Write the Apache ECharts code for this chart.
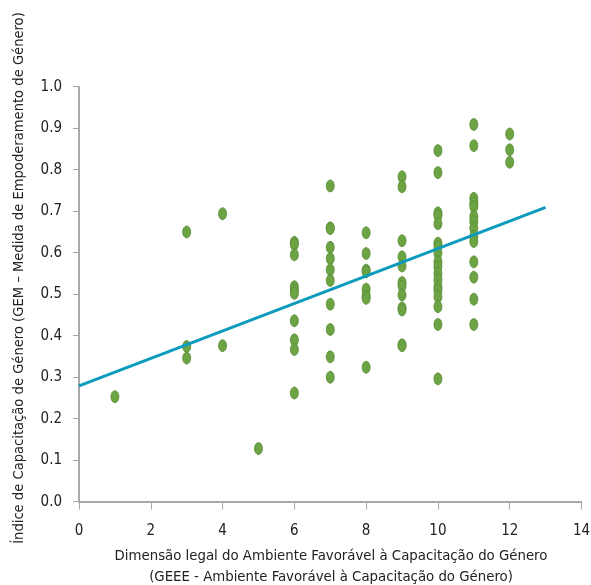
<!DOCTYPE html>
<html><head><meta charset="utf-8">
<script src="https://cdn.jsdelivr.net/npm/echarts@6/dist/echarts.min.js"></script>
<style>html,body{margin:0;padding:0;background:#fff}#c{width:591px;height:585px}</style>
</head><body><div id="c"></div>
<script>
const geeeX = [1,
 3,3,3,
 4,4,
 5,
 6,6,6,6,6,6,6,6,6,6,
 7,7,7,7,7,7,7,7,7,7,7,
 8,8,8,8,8,8,8,8,
 9,9,9,9,9,9,9,9,9,9,9,9,
 10,10,10,10,10,10,10,10,10,10,10,10,10,10,10,10,10,10,
 11,11,11,11,11,11,11,11,11,11,11,11,11,11,
 12,12,12];
const gemY = [0.253,
 0.650,0.374,0.346,
 0.694,0.376,
 0.128,
 0.625,0.620,0.595,0.518,0.510,0.502,0.436,0.390,0.367,0.262,
 0.761,0.660,0.658,0.613,0.586,0.559,0.533,0.476,0.415,0.349,0.300,
 0.648,0.598,0.558,0.554,0.512,0.496,0.490,0.324,
 0.783,0.759,0.629,0.590,0.568,0.528,0.520,0.498,0.467,0.462,0.378,0.376,
 0.846,0.793,0.696,0.690,0.670,0.623,0.615,0.599,0.578,0.566,0.550,0.534,0.518,0.510,0.494,0.470,0.427,0.296,
 0.909,0.858,0.731,0.719,0.711,0.687,0.675,0.659,0.639,0.627,0.578,0.541,0.488,0.427,
 0.886,0.848,0.818];
const trendX = [0, 13];
const trendY = [0.279, 0.709];
const xTicks = [0,2,4,6,8,10,12,14];
const yTicks = ['0.0','0.1','0.2','0.3','0.4','0.5','0.6','0.7','0.8','0.9','1.0'];
const xTitle1 = 'Dimensão legal do Ambiente Favorável à Capacitação do Género';
const xTitle2 = '(GEEE - Ambiente Favorável à Capacitação do Género)';
const yTitle = 'Índice de Capacitação de Género (GEM – Medida de Empoderamento de Género)';

const FONT = '"DejaVu Sans Condensed", sans-serif';
const pts = gemY.map((y,i)=>[geeeX[i], y]);

const chart = echarts.init(document.getElementById('c'), null, {renderer:'canvas'});
chart.setOption({
  animation:false,
  grid:{left:79, right:9.5, top:86.7, bottom:83.3, outerBoundsMode:'none', containLabel:false},
  graphic:[
    {type:'text', x:19.5, y:278, rotation:Math.PI/2,
      style:{text:yTitle, fill:'#222', font:'14.6px '+FONT, align:'center', verticalAlign:'middle'}},
    {type:'text', x:331, y:556,
      style:{text:xTitle1, fill:'#222', font:'14.8px '+FONT, align:'center', verticalAlign:'middle'}},
    {type:'text', x:331, y:577,
      style:{text:xTitle2, fill:'#222', font:'14.8px '+FONT, align:'center', verticalAlign:'middle'}}
  ],
  xAxis:{type:'value', min:0, max:14, interval:2,
    axisLine:{show:true, lineStyle:{color:'#8c8c8c', width:1.5}},
    axisTick:{show:true, length:8, lineStyle:{color:'#a6a6a6', width:1}},
    splitLine:{show:false},
    axisLabel:{color:'#222', fontFamily:FONT, fontSize:15, margin:22,
      formatter:v=>xTicks.includes(v)?String(v):''}
  },
  yAxis:{type:'value', min:0, max:1, interval:0.1,
    axisLine:{show:true, lineStyle:{color:'#8c8c8c', width:1.5}},
    axisTick:{show:true, length:6, lineStyle:{color:'#a6a6a6', width:1}},
    splitLine:{show:false},
    axisLabel:{color:'#222', fontFamily:FONT, fontSize:15, margin:17,
      formatter:v=>yTicks[Math.round(v*10)]}
  },
  series:[
    {type:'scatter', data:pts, symbol:'circle', symbolSize:[8,12],
      itemStyle:{color:'#6ca444', borderColor:'#5b8c37', borderWidth:0.8, opacity:1}, z:2},
    {type:'line', data:trendX.map((x,i)=>[x,trendY[i]]), symbol:'none',
      lineStyle:{color:'#0c9bbd', width:3}, z:3}
  ]
});
</script></body></html>
